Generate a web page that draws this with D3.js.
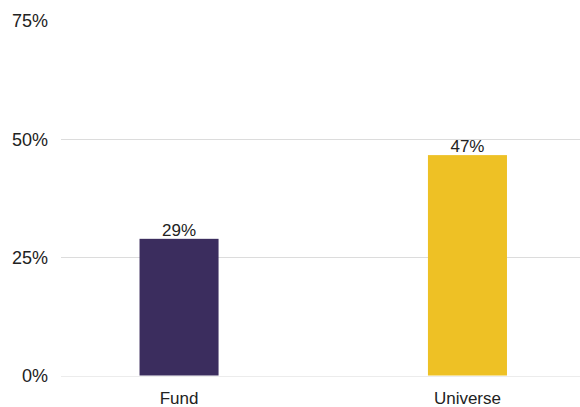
<!DOCTYPE html>
<html>
<head>
<meta charset="utf-8">
<script src="https://cdn.jsdelivr.net/npm/d3@7"></script>
<style>
  body { margin: 0; background: #fff; }
  svg text { font-family: "Liberation Sans", Arial, sans-serif; }
</style>
</head>
<body>
<svg id="chart" width="580" height="407"></svg>
<script>
const categories = ["Fund", "Universe"];
const values = [28.9, 46.6];
const colors = ["#3b2d5e", "#eec125"];
const yTicks = [0, 25, 50, 75];

const svg = d3.select("#chart");
const W = 580, H = 407;
const plotLeft = 61, plotRight = 580;

const y = d3.scaleLinear().domain([0, 75]).range([375.5, 20.8]);
const x = d3.scaleBand().domain(categories)
  .range([53, 593.5]).paddingInner(0.726).paddingOuter(0.3);

// gridlines
svg.append("g").selectAll("line")
  .data(yTicks.filter(t => t > 0 && t < 75))
  .join("line")
  .attr("x1", plotLeft).attr("x2", plotRight)
  .attr("y1", d => Math.round(y(d)) + 0.5).attr("y2", d => Math.round(y(d)) + 0.5)
  .attr("stroke", "#dcdcdc").attr("stroke-width", 1);

// baseline
svg.append("line")
  .attr("x1", plotLeft).attr("x2", plotRight)
  .attr("y1", Math.round(y(0)) + 0.5).attr("y2", Math.round(y(0)) + 0.5)
  .attr("stroke", "#ececec").attr("stroke-width", 1);

// y tick labels
svg.append("g").selectAll("text")
  .data(yTicks).join("text")
  .attr("x", 48).attr("y", d => y(d))
  .attr("dy", "0.36em")
  .attr("text-anchor", "end")
  .attr("font-size", 18)
  .attr("fill", "#222")
  .text(d => d + "%");

// bars
svg.append("g").selectAll("rect")
  .data(categories).join("rect")
  .attr("x", d => x(d))
  .attr("width", x.bandwidth())
  .attr("y", (d, i) => y(values[i]))
  .attr("height", (d, i) => y(0) - y(values[i]))
  .attr("fill", (d, i) => colors[i]);

// value labels
svg.append("g").selectAll("text")
  .data(categories).join("text")
  .attr("x", d => x(d) + x.bandwidth() / 2)
  .attr("y", (d, i) => y(values[i]) - 3)
  .attr("text-anchor", "middle")
  .attr("font-size", 17)
  .attr("fill", "#222")
  .text((d, i) => d3.format(".0f")(values[i]) + "%");

// category labels
svg.append("g").selectAll("text")
  .data(categories).join("text")
  .attr("x", d => x(d) + x.bandwidth() / 2)
  .attr("y", 404)
  .attr("text-anchor", "middle")
  .attr("font-size", 17)
  .attr("fill", "#222")
  .text(d => d);
</script>
</body>
</html>
